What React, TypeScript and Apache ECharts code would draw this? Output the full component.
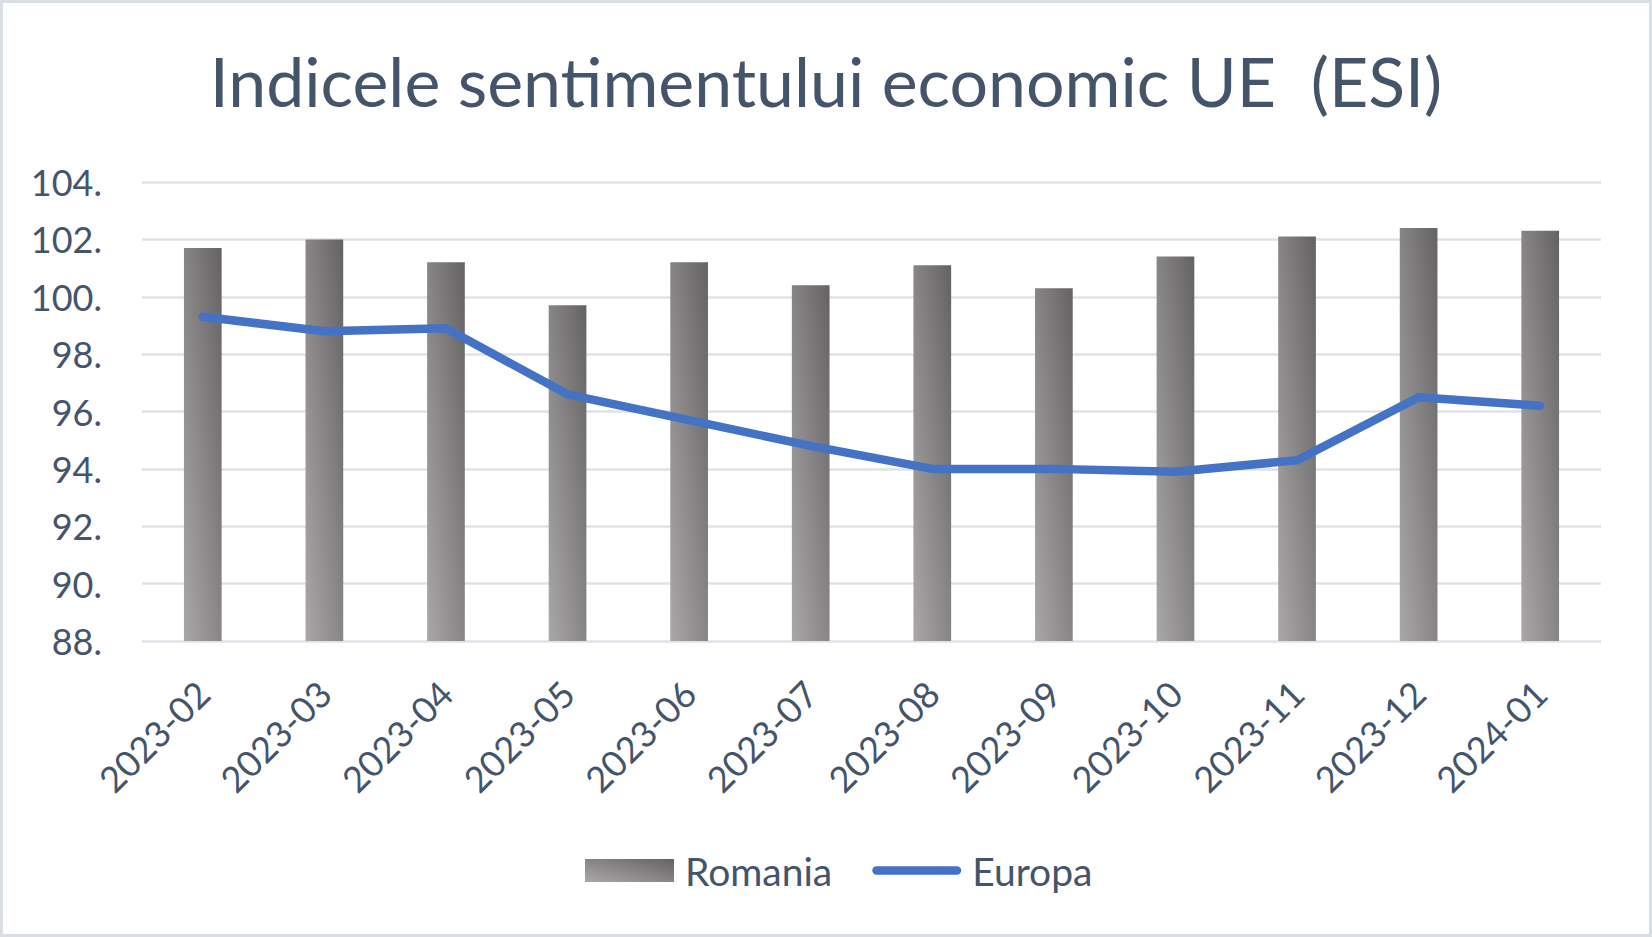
import React, { useEffect, useRef } from "react";
import * as echarts from "echarts";

const categories = [
  "2023-02", "2023-03", "2023-04", "2023-05", "2023-06", "2023-07",
  "2023-08", "2023-09", "2023-10", "2023-11", "2023-12", "2024-01",
];
const romania = [101.7, 102.0, 101.2, 99.7, 101.2, 100.4, 101.1, 100.3, 101.4, 102.1, 102.4, 102.3];
const europa = [99.3, 98.8, 98.9, 96.6, 95.7, 94.8, 94.0, 94.0, 93.9, 94.3, 96.5, 96.2];
const yMin = 88;
const yMax = 104;
const yStep = 2;
const titleText = "Indicele sentimentului economic UE  (ESI)";

const TEXT = "#44546A";
const FONT = "Lato, 'Noto Sans', sans-serif";
const PILL = "path://M4.5,0 H90.5 A4.5,4.5 0 0 1 90.5,9 H4.5 A4.5,4.5 0 0 1 4.5,0 Z";

export default function App() {
  const ref = useRef<HTMLDivElement>(null);
  useEffect(() => {
    document.body.style.margin = "0";
    if (!ref.current) return;
    const chart = echarts.init(ref.current, undefined, { renderer: "svg" });
    const barGradient = new echarts.graphic.LinearGradient(0, 1, 1, 0, [
      { offset: 0, color: "#AAA8A7" },
      { offset: 1, color: "#646263" },
    ]);
    chart.setOption({
      animation: false,
      backgroundColor: "#ffffff",
      textStyle: { fontFamily: FONT },
      title: {
        text: titleText,
        left: "center",
        top: 41,
        textStyle: { fontFamily: FONT, fontSize: 68, fontWeight: "normal", color: TEXT },
      },
      graphic: [
        {
          type: "rect",
          shape: { x: 1.5, y: 1.5, width: 1649, height: 934 },
          style: { fill: "none", stroke: "#D9DEE5", lineWidth: 3 },
          silent: true,
        },
      ],
      legend: {
        bottom: 42,
        left: 580,
        itemWidth: 89,
        itemHeight: 23,
        itemGap: 40,
        textStyle: { fontFamily: FONT, fontSize: 39, color: TEXT, padding: [0, 0, 0, 6] },
        data: [
          { name: "Romania", icon: "rect" },
          { name: "Europa", icon: PILL, itemStyle: { color: "#4472C4" } },
        ],
      },
      grid: { left: 142, right: 51, top: 182, bottom: 296, containLabel: false },
      xAxis: {
        type: "category",
        data: categories,
        axisTick: { show: false },
        axisLine: { show: false },
        axisLabel: {
          rotate: 45,
          margin: 46,
          fontFamily: FONT,
          fontSize: 36,
          color: TEXT,
          interval: 0,
        },
      },
      yAxis: {
        type: "value",
        min: yMin,
        max: yMax,
        interval: yStep,
        axisLine: { show: false },
        axisTick: { show: false },
        axisLabel: {
          margin: 40,
          fontFamily: FONT,
          fontSize: 36,
          color: TEXT,
          formatter: (v: number) => `${v}.`,
        },
        splitLine: { lineStyle: { color: "#DEE3EA", width: 2.5 } },
      },
      series: [
        {
          name: "Romania",
          type: "bar",
          data: romania,
          barWidth: "31%",
          itemStyle: { color: barGradient },
        },
        {
          name: "Europa",
          type: "line",
          data: europa,
          symbol: "none",
          showSymbol: false,
          lineStyle: { color: "#4472C4", width: 8.5, cap: "round", join: "round" },
          itemStyle: { color: "#4472C4" },
        },
      ],
    });
    return () => chart.dispose();
  }, []);
  return <div ref={ref} style={{ width: 1652, height: 937 }} />;
}
